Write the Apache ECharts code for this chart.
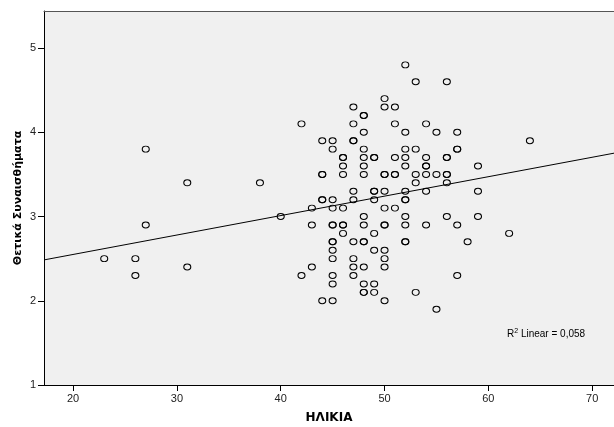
<!DOCTYPE html>
<html>
<head>
<meta charset="utf-8">
<script src="https://cdn.jsdelivr.net/npm/echarts@6/dist/echarts.min.js"></script>
<style>html,body{margin:0;padding:0;background:#fff;}#c{width:614px;height:427px;}</style>
</head>
<body>
<div id="c"></div>
<script>
// Age (ΗΛΙΚΙΑ) and positive emotions score, one entry per respondent
var ages = [
  23,26,26,27,27,31,31,38,40,42,42,64,62,58,
  52,
  53,56,
  50,
  47,50,51,
  48,48,
  47,51,54,
  48,52,55,57,
  44,45,47,47,
  45,48,52,53,57,57,
  46,46,48,49,49,51,52,54,56,56,
  46,48,52,54,54,59,
  44,44,46,48,50,50,51,51,53,54,55,56,56,
  53,56,
  47,49,49,50,52,54,59,
  44,44,45,47,49,52,52,
  43,45,46,50,51,
  48,52,56,59,
  43,45,45,46,46,48,50,50,52,54,57,
  46,49,
  45,45,47,48,48,52,52,
  45,49,50,
  45,47,50,
  43,47,48,50,
  45,47,57,
  45,48,49,
  48,48,49,53,
  44,45,50,
  55
];
var scores = [
  2.5,2.5,2.3,3.8,2.9,3.4,2.4,3.4,3.0,4.1,2.3,3.9,2.8,2.7,
  4.8,
  4.6,4.6,
  4.4,
  4.3,4.3,4.3,
  4.2,4.2,
  4.1,4.1,4.1,
  4.0,4.0,4.0,4.0,
  3.9,3.9,3.9,3.9,
  3.8,3.8,3.8,3.8,3.8,3.8,
  3.7,3.7,3.7,3.7,3.7,3.7,3.7,3.7,3.7,3.7,
  3.6,3.6,3.6,3.6,3.6,3.6,
  3.5,3.5,3.5,3.5,3.5,3.5,3.5,3.5,3.5,3.5,3.5,3.5,3.5,
  3.4,3.4,
  3.3,3.3,3.3,3.3,3.3,3.3,3.3,
  3.2,3.2,3.2,3.2,3.2,3.2,3.2,
  3.1,3.1,3.1,3.1,3.1,
  3.0,3.0,3.0,3.0,
  2.9,2.9,2.9,2.9,2.9,2.9,2.9,2.9,2.9,2.9,2.9,
  2.8,2.8,
  2.7,2.7,2.7,2.7,2.7,2.7,2.7,
  2.6,2.6,2.6,
  2.5,2.5,2.5,
  2.4,2.4,2.4,2.4,
  2.3,2.3,2.3,
  2.2,2.2,2.2,
  2.1,2.1,2.1,2.1,
  2.0,2.0,2.0,
  1.9
];
// Fit line endpoints (x at left/right plot edges)
var fitX = [17.2, 72.1];
var fitY = [2.485, 3.752];
var xTicks = [20, 30, 40, 50, 60, 70];
var yTicks = [1, 2, 3, 4, 5];
var xRange = [17.2, 72.1];
var yRange = [1, 5.44];
var xTitle = 'ΗΛΙΚΙΑ';
var yTitle = 'Θετικά Συναισθήματα';
var r2Label = '0,058';

var pts = ages.map(function (a, i) { return [a, scores[i]]; });
var fit = fitX.map(function (x, i) { return [x, fitY[i]]; });

var chart = echarts.init(document.getElementById('c'), null, {renderer: 'canvas'});
var font = 'Arial, "Liberation Sans", sans-serif';
var titleFont = '"DejaVu Sans", Verdana, sans-serif';
chart.setOption({
  animation: false,
  backgroundColor: '#ffffff',
  grid: {left: 44, right: 0, top: 11, bottom: 42, show: true, backgroundColor: '#f0f0f0', borderWidth: 0,
         containLabel: false, outerBoundsMode: 'none'},
  xAxis: [{
    type: 'value', min: xRange[0], max: xRange[1],
    name: xTitle, nameLocation: 'middle', nameGap: 27, nameMoveOverlap: false,
    nameTextStyle: {fontFamily: titleFont, fontSize: 12, fontWeight: 'bold', color: '#000'},
    axisLine: {show: true, onZero: false, lineStyle: {color: '#000', width: 1}},
    axisTick: {show: true, length: 6, inside: false, customValues: xTicks, lineStyle: {color: '#000'}},
    axisLabel: {customValues: xTicks, fontFamily: font, fontSize: 11, color: '#222', margin: 8},
    splitLine: {show: false}
  }, {
    type: 'value', position: 'top', min: xRange[0], max: xRange[1],
    axisLine: {show: true, onZero: false, lineStyle: {color: '#555', width: 1}},
    axisTick: {show: false}, axisLabel: {show: false}, splitLine: {show: false}
  }],
  yAxis: {
    type: 'value', min: yRange[0], max: yRange[1],
    name: yTitle, nameLocation: 'middle', nameGap: 20, nameRotate: 90, nameMoveOverlap: false,
    nameTextStyle: {fontFamily: titleFont, fontSize: 11, fontWeight: 'bold', color: '#000'},
    axisLine: {show: true, onZero: false, lineStyle: {color: '#000', width: 1}},
    axisTick: {show: true, length: 6, customValues: yTicks, lineStyle: {color: '#000'}},
    axisLabel: {customValues: yTicks, fontFamily: font, fontSize: 11, color: '#222', margin: 8},
    splitLine: {show: false}
  },
  series: [{
    type: 'scatter', data: pts, symbol: 'circle', symbolSize: [7, 6],
    itemStyle: {color: 'rgba(0,0,0,0)', borderColor: '#000', borderWidth: 1, opacity: 1},
    emphasis: {disabled: true}, z: 3
  }, {
    type: 'line', data: fit, symbol: 'none', silent: true,
    lineStyle: {color: '#000', width: 1}, z: 2
  }],
  graphic: [{
    type: 'text', left: 507, top: 328, silent: true,
    style: {
      text: 'R{sup|2} Linear = ' + r2Label,
      rich: {sup: {fontSize: 7, verticalAlign: 'top', padding: [0, 0, 5, 0], fontFamily: font, fill: '#000'}},
      font: '10px Arial, "Liberation Sans", sans-serif', fill: '#000'
    }
  }]
});
</script>
</body>
</html>
